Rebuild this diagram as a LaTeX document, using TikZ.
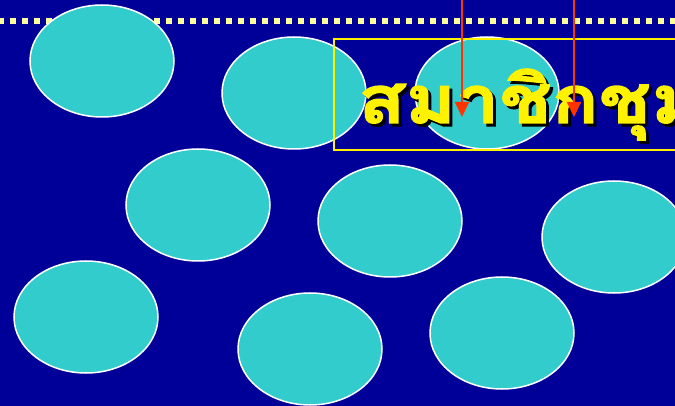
\documentclass[tikz,border=0pt]{standalone}
\usepackage{fontspec}
\newfontfamily\thaifont[Script=Thai,FakeStretch=1.17,BoldFeatures={FakeBold=2}]{Loma}
\usetikzlibrary{shapes.geometric, arrows.meta}
\definecolor{slidebg}{HTML}{000099}
\definecolor{bubblefill}{HTML}{33CCCC}
\definecolor{dotyellow}{HTML}{FFFF99}
\definecolor{arrowred}{HTML}{FF3300}

\begin{document}
\begin{tikzpicture}[x=1pt, y=-1pt, >={Triangle[width=14pt,length=15pt]},
  bubble/.style={ellipse, draw=white, line width=1.5pt, fill=bubblefill,
    minimum width=144pt, minimum height=112pt, inner sep=0pt},
  titletext/.style={anchor=base west, inner sep=0pt,
    font=\thaifont\bfseries\fontsize{66}{70}\selectfont},
  redarrow/.style={->, arrowred, line width=2pt}]
  \useasboundingbox (0,0) rectangle (675,406);
  \fill[slidebg] (0,0) rectangle (675,406);
  % Dotted rule
  \coordinate (dotsL) at (-2,21);
  \coordinate (dotsR) at (680,21);
  \draw[dotyellow, line width=6pt, dash pattern=on 6pt off 6pt] (dotsL) -- (dotsR);
  % Bubbles
  \node[bubble] (b1) at (102,61) {};
  \node[bubble] (b2) at (294,93) {};
  \node[bubble] (b3) at (487,93) {};
  \node[bubble] (b4) at (198,205) {};
  \node[bubble] (b5) at (390,221) {};
  \node[bubble] (b6) at (614,237) {};
  \node[bubble] (b7) at (86,317) {};
  \node[bubble] (b8) at (310,349) {};
  \node[bubble] (b9) at (502,333) {};
  % Title
  \node[draw=yellow, line width=2pt, anchor=north west, inner sep=0pt,
    minimum width=367pt, minimum height=111pt] (titlebox) at (333,38) {};
  \node[titletext, text=black] (titleshadow) at (361,126) {สมาชิกชุม};
  \node[titletext, text=yellow] (title) at (358,123) {สมาชิกชุม};
  % Arrows
  \coordinate (arrowAtop) at (462,-2);
  \coordinate (arrowAtip) at (462,117);
  \coordinate (arrowBtop) at (574,-2);
  \coordinate (arrowBtip) at (574,117);
  \draw[redarrow] (arrowAtop) -- (arrowAtip);
  \draw[redarrow] (arrowBtop) -- (arrowBtip);
\end{tikzpicture}
\end{document}
